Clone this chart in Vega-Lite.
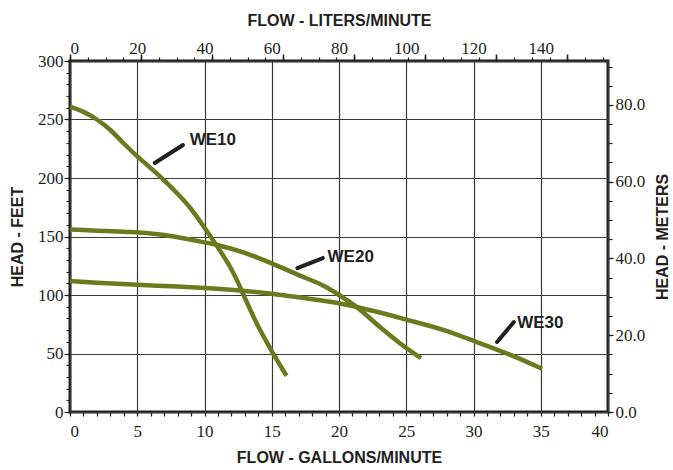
{
  "$schema": "https://vega.github.io/schema/vega-lite/v6.json",
  "width": 538,
  "height": 351,
  "autosize": {"type": "none"},
  "padding": {"left": 70, "top": 61, "right": 65, "bottom": 58},
  "background": "white",
  "config": {
    "view": {"stroke": "#231f20", "strokeWidth": 3},
    "font": "Liberation Sans",
    "axis": {
      "labelFont": "Liberation Sans Narrow",
      "labelFontSize": 17,
      "labelColor": "#231f20",
      "titleFont": "Liberation Sans",
      "titleFontSize": 16,
      "titleFontWeight": "bold",
      "titleColor": "#231f20",
      "tickColor": "#231f20",
      "tickWidth": 1.2,
      "domain": false,
      "grid": false
    }
  },
  "datasets": {
    "curves": [
      {"series": "WE10", "gal": 0, "ft": 261},
      {"series": "WE10", "gal": 1, "ft": 256.5},
      {"series": "WE10", "gal": 2, "ft": 250},
      {"series": "WE10", "gal": 3, "ft": 241},
      {"series": "WE10", "gal": 4, "ft": 229.5},
      {"series": "WE10", "gal": 5, "ft": 218.5},
      {"series": "WE10", "gal": 6, "ft": 208.5},
      {"series": "WE10", "gal": 7, "ft": 198},
      {"series": "WE10", "gal": 8, "ft": 186.5},
      {"series": "WE10", "gal": 9, "ft": 173.5},
      {"series": "WE10", "gal": 10, "ft": 157.5},
      {"series": "WE10", "gal": 11, "ft": 140.5},
      {"series": "WE10", "gal": 12, "ft": 122},
      {"series": "WE10", "gal": 12.6, "ft": 108},
      {"series": "WE10", "gal": 13, "ft": 97.5},
      {"series": "WE10", "gal": 14, "ft": 73},
      {"series": "WE10", "gal": 15, "ft": 52},
      {"series": "WE10", "gal": 16.1, "ft": 31},
      {"series": "WE20", "gal": 0, "ft": 156},
      {"series": "WE20", "gal": 2, "ft": 155},
      {"series": "WE20", "gal": 4, "ft": 154},
      {"series": "WE20", "gal": 6, "ft": 152.6},
      {"series": "WE20", "gal": 7, "ft": 151.3},
      {"series": "WE20", "gal": 8, "ft": 149.4},
      {"series": "WE20", "gal": 10, "ft": 145},
      {"series": "WE20", "gal": 11, "ft": 142.5},
      {"series": "WE20", "gal": 13, "ft": 136},
      {"series": "WE20", "gal": 15, "ft": 127},
      {"series": "WE20", "gal": 17, "ft": 117},
      {"series": "WE20", "gal": 19, "ft": 107},
      {"series": "WE20", "gal": 20, "ft": 100},
      {"series": "WE20", "gal": 21.4, "ft": 89},
      {"series": "WE20", "gal": 23, "ft": 73},
      {"series": "WE20", "gal": 24.5, "ft": 59},
      {"series": "WE20", "gal": 26.1, "ft": 46},
      {"series": "WE30", "gal": 0, "ft": 112},
      {"series": "WE30", "gal": 2, "ft": 110.5},
      {"series": "WE30", "gal": 5, "ft": 108.7},
      {"series": "WE30", "gal": 8, "ft": 107.2},
      {"series": "WE30", "gal": 10, "ft": 106},
      {"series": "WE30", "gal": 13, "ft": 103.5},
      {"series": "WE30", "gal": 15, "ft": 101},
      {"series": "WE30", "gal": 17, "ft": 98},
      {"series": "WE30", "gal": 20, "ft": 93},
      {"series": "WE30", "gal": 22.5, "ft": 86.5},
      {"series": "WE30", "gal": 25, "ft": 79},
      {"series": "WE30", "gal": 27.8, "ft": 70},
      {"series": "WE30", "gal": 30.2, "ft": 60},
      {"series": "WE30", "gal": 32.7, "ft": 49},
      {"series": "WE30", "gal": 35.1, "ft": 37}
    ],
    "labels": [
      {"label": "WE10", "gal": 8.9, "ft": 232.5},
      {"label": "WE20", "gal": 19.15, "ft": 132.5},
      {"label": "WE30", "gal": 33.25, "ft": 76}
    ],
    "pointers": [
      {"label": "WE10", "gal": 6.3, "ft": 212.8, "gal2": 8.4, "ft2": 228.2},
      {"label": "WE20", "gal": 16.9, "ft": 123, "gal2": 18.8, "ft2": 131.6},
      {"label": "WE30", "gal": 31.75, "ft": 59.8, "gal2": 33.0, "ft2": 76.9}
    ]
  },
  "layer": [
    {
      "data": {"name": "curves"},
      "mark": {"type": "line", "color": "#6b7a1e", "strokeWidth": 4.5, "interpolate": "monotone", "strokeCap": "butt"},
      "encoding": {
        "x": {"field": "gal", "type": "quantitative", "scale": {"domain": [0, 40], "nice": false, "zero": false},
          "axis": {"orient": "bottom", "values": [0, 5, 10, 15, 20, 25, 30, 35, 40], "grid": true, "gridColor": "#3a3a3a", "gridWidth": 1.2,
            "ticks": false, "labelPadding": 11, "title": "FLOW - GALLONS/MINUTE", "titlePadding": 10}},
        "y": {"field": "ft", "type": "quantitative", "scale": {"domain": [0, 300], "nice": false, "zero": false},
          "axis": {"orient": "left", "values": [0, 50, 100, 150, 200, 250, 300], "grid": true, "gridColor": "#3a3a3a", "gridWidth": 1.2,
            "ticks": true, "tickSize": 6, "labelPadding": 1, "title": "HEAD - FEET", "titlePadding": 12}},
        "detail": {"field": "series"}
      }
    },
    {
      "data": {"name": "curves"},
      "mark": {"type": "point", "opacity": 0},
      "encoding": {
        "x": {"field": "gal", "type": "quantitative",
          "axis": {"orient": "bottom", "values": [0,1,2,3,4,5,6,7,8,9,10,11,12,13,14,15,16,17,18,19,20,21,22,23,24,25,26,27,28,29,30,31,32,33,34,35,36,37,38,39,40],
            "labels": false, "tickSize": 4, "title": null}},
        "y": {"field": "ft", "type": "quantitative",
          "axis": {"orient": "left", "values": [0,10,20,30,40,50,60,70,80,90,100,110,120,130,140,150,160,170,180,190,200,210,220,230,240,250,260,270,280,290,300],
            "labels": false, "tickSize": 4, "title": null}}
      }
    },
    {
      "data": {"name": "curves"},
      "mark": {"type": "point", "opacity": 0},
      "encoding": {
        "x": {"field": "gal", "type": "quantitative",
          "axis": {"orient": "top", "values": [0, 5, 10, 15, 20, 25, 30, 35], "labelExpr": "format(datum.value * 4, 'd')",
            "ticks": false, "labelPadding": 4, "title": "FLOW - LITERS/MINUTE", "titlePadding": 11}},
        "y": {"field": "ft", "type": "quantitative",
          "axis": {"orient": "right", "values": [0, 65.6168, 131.2336, 196.8504, 262.4672], "labelExpr": "format(datum.value * 0.3048, '.1f')",
            "tickSize": 5, "labelPadding": 2, "title": "HEAD - METERS", "titleAngle": 270, "titleBaseline": "top", "titlePadding": 10}}
      }
    },
    {
      "data": {"name": "curves"},
      "mark": {"type": "point", "opacity": 0},
      "encoding": {
        "x": {"field": "gal", "type": "quantitative",
          "axis": {"orient": "top", "values": [0, 1.3209, 2.6417, 3.9626, 5.2834, 6.6043, 7.9252, 9.246, 10.5669, 11.8878, 13.2086, 14.5295, 15.8503, 17.1712, 18.4921, 19.8129, 21.1338, 22.4547, 23.7755, 25.0964, 26.4172, 27.7381, 29.059, 30.3798, 31.7007, 33.0216, 34.3424, 35.6633, 36.9841, 38.305, 39.6259],
            "labels": false, "tickSize": 4, "title": null}},
        "y": {"field": "ft", "type": "quantitative",
          "axis": {"orient": "right", "values": [0, 16.4042, 32.8084, 49.2126, 65.6168, 82.021, 98.4252, 114.8294, 131.2336, 147.6378, 164.042, 180.4462, 196.8504, 213.2546, 229.6588, 246.063, 262.4672, 278.8714, 295.2756],
            "labels": false, "tickSize": 4, "title": null}}
      }
    },
    {
      "data": {"name": "curves"},
      "mark": {"type": "point", "opacity": 0},
      "encoding": {
        "x": {"field": "gal", "type": "quantitative",
          "axis": {"orient": "top", "values": [0, 5.2834, 10.5669, 15.8503, 21.1338, 26.4172, 31.7007, 36.9841],
            "labels": false, "tickSize": 7, "tickWidth": 1.6, "title": null}},
        "y": {"field": "ft", "type": "quantitative", "axis": null}
      }
    },
    {
      "data": {"name": "pointers"},
      "mark": {"type": "rule", "color": "#231f20", "strokeWidth": 4, "strokeCap": "round"},
      "encoding": {
        "x": {"field": "gal", "type": "quantitative", "axis": null},
        "x2": {"field": "gal2"},
        "y": {"field": "ft", "type": "quantitative", "axis": null},
        "y2": {"field": "ft2"}
      }
    },
    {
      "data": {"name": "labels"},
      "mark": {"type": "text", "font": "Liberation Sans", "fontSize": 17, "fontWeight": "bold", "color": "#231f20", "align": "left", "baseline": "middle"},
      "encoding": {
        "x": {"field": "gal", "type": "quantitative", "axis": null},
        "y": {"field": "ft", "type": "quantitative", "axis": null},
        "text": {"field": "label"}
      }
    }
  ],
  "resolve": {"axis": {"x": "independent", "y": "independent"}}
}
